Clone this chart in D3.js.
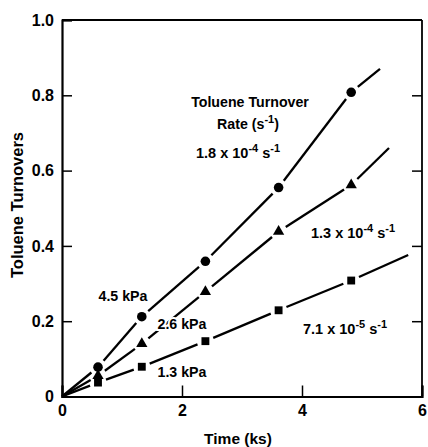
<!DOCTYPE html>
<html>
<head>
<meta charset="utf-8">
<script src="https://cdn.jsdelivr.net/npm/d3@7/dist/d3.min.js"></script>
<style>
  html, body { margin: 0; padding: 0; background: #fff; }
  svg { display: block; }
  text { font-family: "Liberation Sans", Arial, Helvetica, sans-serif; font-weight: bold; fill: #000; }
</style>
</head>
<body>
<svg id="chart" width="428" height="447"></svg>
<script>
// Sampling times (ks) shared by all three pressures
const times = [0.6, 1.33, 2.39, 3.61, 4.82];
// Toluene turnovers at each time
const turnovers45 = [0.078, 0.212, 0.359, 0.555, 0.808];   // 4.5 kPa, circles
const turnovers26 = [0.055, 0.140, 0.278, 0.438, 0.562];   // 2.6 kPa, triangles
const turnovers13 = [0.037, 0.079, 0.147, 0.229, 0.308];   // 1.3 kPa, squares
// Far ends of the fitted lines through the origin [time, turnovers]
const fitEnd45 = [5.30, 0.870];
const fitEnd26 = [5.45, 0.660];
const fitEnd13 = [5.77, 0.376];
// Axis ticks
const xTicks = [0, 2, 4, 6];
const yTicks = [0, 0.2, 0.4, 0.6, 0.8, 1.0];

const svg = d3.select("#chart");
const plotL = 62, plotR = 422, plotT = 20, plotB = 396.5;
const x = d3.scaleLinear().domain([0, 6]).range([plotL, plotR]);
const y = d3.scaleLinear().domain([0, 1]).range([plotB, plotT]);

// Frame: top and right edges
svg.append("line").attr("x1", plotL).attr("x2", plotR).attr("y1", plotT).attr("y2", plotT)
  .attr("stroke", "#000").attr("stroke-width", 1.8);
svg.append("line").attr("x1", plotR).attr("x2", plotR).attr("y1", plotT).attr("y2", plotB)
  .attr("stroke", "#000").attr("stroke-width", 1.8);

// Left axis, ticks pointing inward
const yAxis = svg.append("g").attr("transform", `translate(${plotL},0)`)
  .call(d3.axisLeft(y).tickValues(yTicks).tickSize(-10).tickPadding(8)
    .tickFormat(d => d === 0 ? "0" : d3.format(".1f")(d)));
// Bottom axis, ticks pointing inward
const xAxis = svg.append("g").attr("transform", `translate(0,${plotB})`)
  .call(d3.axisBottom(x).tickValues(xTicks).tickSize(-11).tickPadding(8)
    .tickFormat(d3.format("d")));
// Right-hand ticks
const yRight = svg.append("g").attr("transform", `translate(${plotR},0)`)
  .call(d3.axisRight(y).tickValues(yTicks.filter(v => v > 0 && v < 1)).tickSize(-10).tickFormat(""));
yRight.select(".domain").remove();

[yAxis, xAxis].forEach(g => {
  g.select(".domain").attr("stroke-width", 2.2);
  g.selectAll(".tick line").attr("stroke-width", 1.5);
  g.selectAll(".tick text").style("font-size", "16px")
    .style("font-family", "'Liberation Sans', Arial, sans-serif").style("font-weight", "bold");
});
yRight.selectAll(".tick line").attr("stroke-width", 1.5);

// Axis titles
svg.append("text").attr("x", 238).attr("y", 444).attr("text-anchor", "middle")
  .style("font-size", "15.5px").text("Time (ks)");
svg.append("text").attr("transform", "translate(23,205) rotate(-90)").attr("text-anchor", "middle")
  .style("font-size", "16.5px").text("Toluene Turnovers");

// Fitted lines, broken around each marker
const gap = 8.5;
function drawFit(vals, end) {
  const pts = [[x(0), y(0), false]]
    .concat(times.map((t, i) => [x(t), y(vals[i]), true]))
    .concat([[x(end[0]), y(end[1]), false]]);
  for (let i = 0; i < pts.length - 1; i++) {
    const a = pts[i], b = pts[i + 1];
    const dx = b[0] - a[0], dy = b[1] - a[1];
    const len = Math.hypot(dx, dy);
    const s = a[2] ? gap / len : 0;
    const e = b[2] ? 1 - gap / len : 1;
    if (e <= s) continue;
    svg.append("line")
      .attr("x1", a[0] + dx * s).attr("y1", a[1] + dy * s)
      .attr("x2", a[0] + dx * e).attr("y2", a[1] + dy * e)
      .attr("stroke", "#000").attr("stroke-width", 2.3).attr("stroke-linecap", "butt");
  }
}
drawFit(turnovers45, fitEnd45);
drawFit(turnovers26, fitEnd26);
drawFit(turnovers13, fitEnd13);

// Markers
function drawMarkers(vals, type, size) {
  svg.append("g").selectAll("path").data(times.map((t, i) => [t, vals[i]])).join("path")
    .attr("transform", d => `translate(${x(d[0])},${y(d[1])})`)
    .attr("d", d3.symbol().type(type).size(size))
    .attr("fill", "#000");
}
drawMarkers(turnovers13, d3.symbolSquare, 62);
drawMarkers(turnovers26, d3.symbolTriangle, 55);
drawMarkers(turnovers45, d3.symbolCircle, 72);

// Annotations (optionally on a white knock-out so crossing lines break behind them)
function label(cx, by, parts, size, knockout) {
  const t = svg.append("text").attr("x", cx).attr("y", by).attr("text-anchor", "middle")
    .style("font-size", size + "px");
  if (knockout) t.attr("stroke", "#fff").attr("stroke-width", 4).attr("paint-order", "stroke");
  parts.forEach(p => {
    if (typeof p === "string") t.append("tspan").text(p);
    else t.append("tspan").attr("dy", p.dy).style("font-size", p.size + "px").text(p.text);
  });
}
function rate(cx, by, mant, exp) {
  label(cx, by, [mant + " x 10", { text: exp, dy: -5.5, size: 11 }, { text: " s", dy: 5.5, size: 14.5 },
    { text: "-1", dy: -5.5, size: 11 }], 14.5);
}
label(250, 107, ["Toluene Turnover"], 14.2);
label(248, 128.5, ["Rate (s", { text: "-1", dy: -5.5, size: 11 }, { text: ")", dy: 5.5, size: 14.2 }], 14.2);
rate(238, 157.5, "1.8", "-4");
rate(353, 237.5, "1.3", "-4");
rate(345, 333.5, "7.1", "-5");
label(123, 301, ["4.5 kPa"], 14.2);
label(182, 328.5, ["2.6 kPa"], 14.2, true);
label(182, 377, ["1.3 kPa"], 14.2);
</script>
</body>
</html>
